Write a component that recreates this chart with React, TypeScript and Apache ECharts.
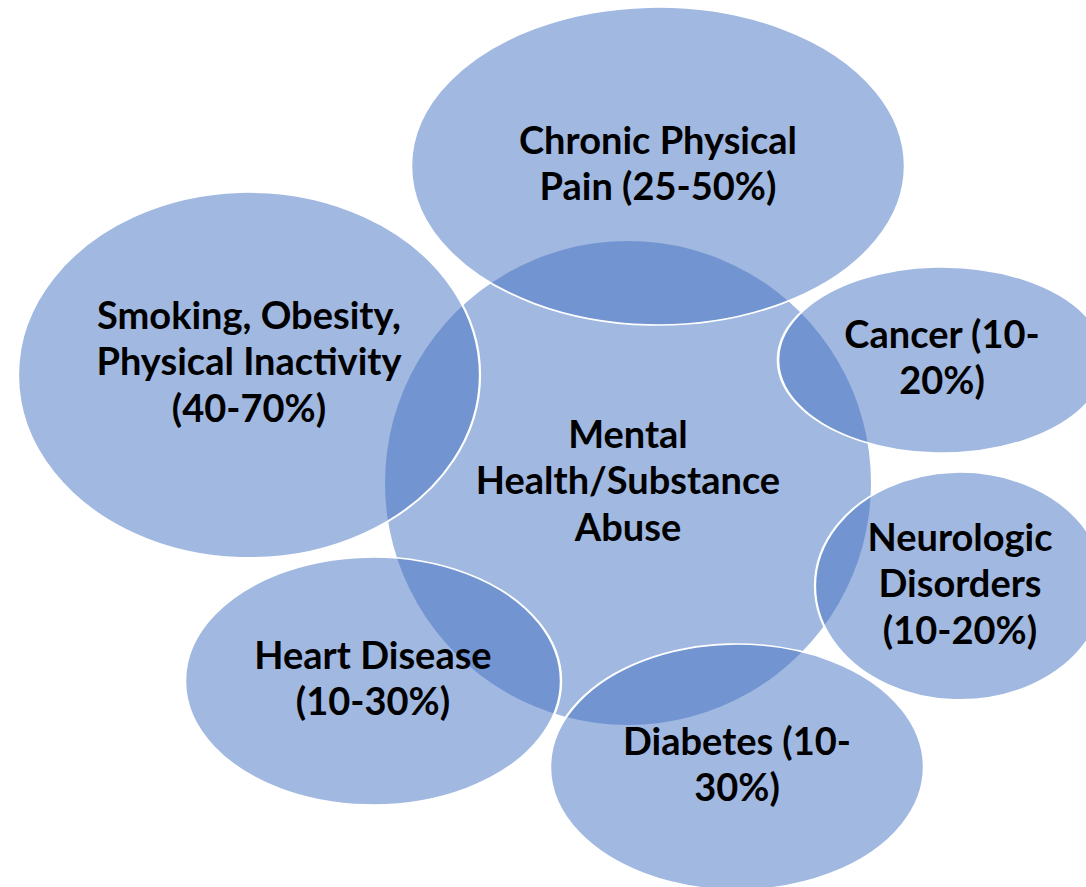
import React, { useEffect, useRef } from "react";
import * as echarts from "echarts";

const labels = [
  "Mental\nHealth/Substance\nAbuse",
  "Chronic Physical\nPain (25-50%)",
  "Smoking, Obesity,\nPhysical Inactivity\n(40-70%)",
  "Cancer (10-\n20%)",
  "Neurologic\nDisorders\n(10-20%)",
  "Heart Disease\n(10-30%)",
  "Diabetes (10-\n30%)",
];
const centerX = [628, 658, 249, 942, 960, 373, 737];
const centerY = [483, 166, 375, 360, 586, 681, 767];
const diamX = [486, 494, 462, 328, 290, 376, 374];
const diamY = [484, 318, 366, 186, 228, 248, 246];
const labelShiftY = [0, 0, -11, 0, 0, 0, 0];

export default function App() {
  const ref = useRef<HTMLDivElement>(null);
  useEffect(() => {
    if (!ref.current) return;
    const chart = echarts.init(ref.current, null, { renderer: "svg" });
    const data = labels.map((name, i) => ({
      name,
      value: [centerX[i], centerY[i]],
      symbolSize: [diamX[i], diamY[i]],
      itemStyle: {
        color: "rgba(68,114,196,0.5)",
        borderColor: "#ffffff",
        borderWidth: i === 0 ? 0 : 2,
        opacity: 1,
      },
      label: { offset: [0, labelShiftY[i] - 4] },
    }));
    chart.setOption({
      animation: false,
      backgroundColor: "#ffffff",
      grid: { left: 0, right: 0, top: 0, bottom: 0 },
      xAxis: { type: "value", min: 0, max: 1086, show: false },
      yAxis: { type: "value", min: 0, max: 887, inverse: true, show: false },
      series: [
        {
          type: "scatter",
          symbol: "circle",
          data,
          emphasis: { disabled: true },
          label: {
            show: true,
            position: "inside",
            formatter: (p: any) => p.name,
            color: "#000000",
            fontFamily: "Lato",
            fontWeight: "bold",
            fontSize: 38,
            lineHeight: 46.5,
            align: "center",
            verticalAlign: "middle",
          },
        },
      ],
    });
    return () => chart.dispose();
  }, []);
  return (
    <div
      ref={ref}
      style={{ position: "fixed", left: 0, top: 0, width: 1086, height: 887 }}
    />
  );
}
